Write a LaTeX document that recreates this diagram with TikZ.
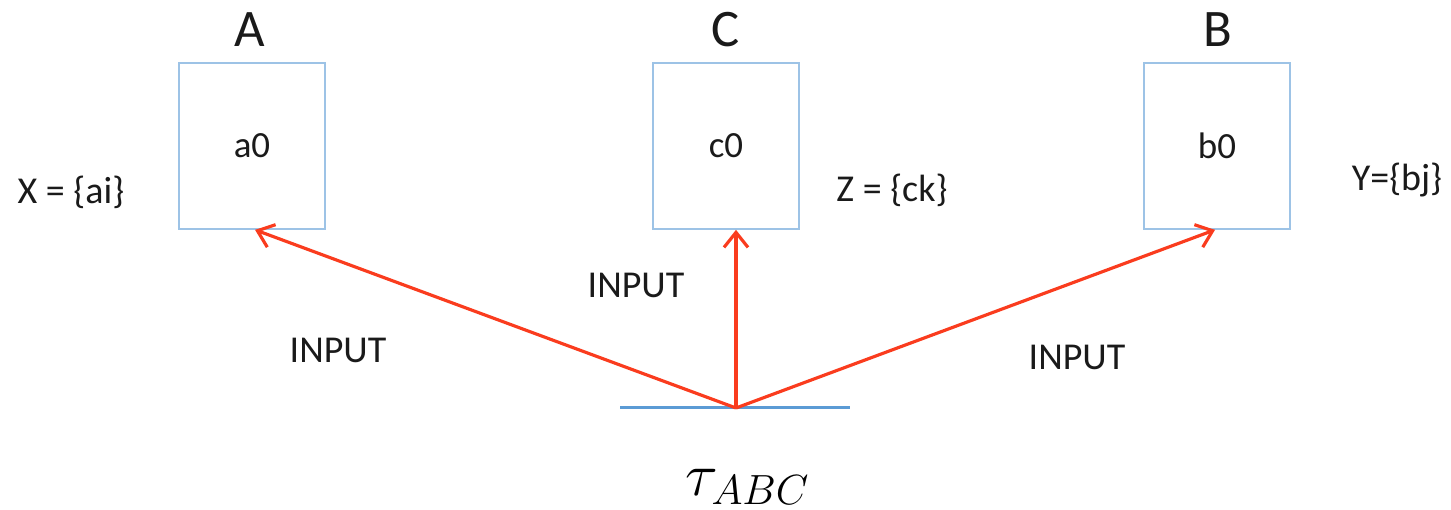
\documentclass[tikz,border=0pt]{standalone}
\usepackage{fontspec}
\setmainfont{Carlito}
\usepackage{tikz}
\usetikzlibrary{arrows.meta,positioning}
\definecolor{boxblue}{HTML}{9DC3E6}
\definecolor{baseblue}{HTML}{5B9BD5}
\definecolor{inred}{HTML}{FA3C1E}
\definecolor{txtblack}{HTML}{1A1A1A}
\begin{document}
\begin{tikzpicture}[x=0.01cm, y=-0.01cm,
    setbox/.style={draw=boxblue, line width=0.45pt, minimum width=1.46cm, minimum height=1.66cm, inner sep=0pt, text=txtblack, font=\fontsize{10.5}{12}\selectfont},
    setname/.style={text=txtblack, font=\fontsize{15}{17}\selectfont},
    setnote/.style={text=txtblack, font=\fontsize{10.8}{12}\selectfont},
    inarrow/.style={draw=inred, line width=0.9pt, -{Straight Barb[length=0.15cm, width=0.24cm, line width=0.9pt]}}]
  \useasboundingbox (0,0) rectangle (1451,510);
  % sets
  \node[setbox] (boxA) at (252,146) {a0};
  \node[setbox] (boxC) at (726,146) {c0};
  \node[setbox] (boxB) at (1217,146) {b0};
  \node[setname] (nameA) at (250,30) {A};
  \node[setname] (nameC) at (726,30) {C};
  \node[setname] (nameB) at (1218,30) {B};
  \node[setnote] (setX) at (71,192) {X = \{ai\}};
  \node[setnote] (setZ) at (892,190) {Z = \{ck\}};
  \node[setnote] (setY) at (1397,180) {Y=\{bj\}};
  % base
  \coordinate (baseL) at (620,408);
  \coordinate (baseR) at (850,408);
  \coordinate (src) at (736,408);
  \draw[baseblue, line width=0.85pt] (baseL) -- (baseR);
  \node[font=\fontsize{16.4}{18}\selectfont] (tau) at (748,487) {$\tau_{ABC}$};
  % inputs
  \draw[inarrow] (src) -- ([xshift=0.03cm]boxA.south);
  \draw[inarrow] (src) -- (src |- boxC.south);
  \draw[inarrow] (src) -- ([xshift=-0.02cm]boxB.south);
  \node[setnote] (inA) at (338,350) {INPUT};
  \node[setnote] (inC) at (636,285) {INPUT};
  \node[setnote] (inB) at (1077,357) {INPUT};
\end{tikzpicture}
\end{document}
